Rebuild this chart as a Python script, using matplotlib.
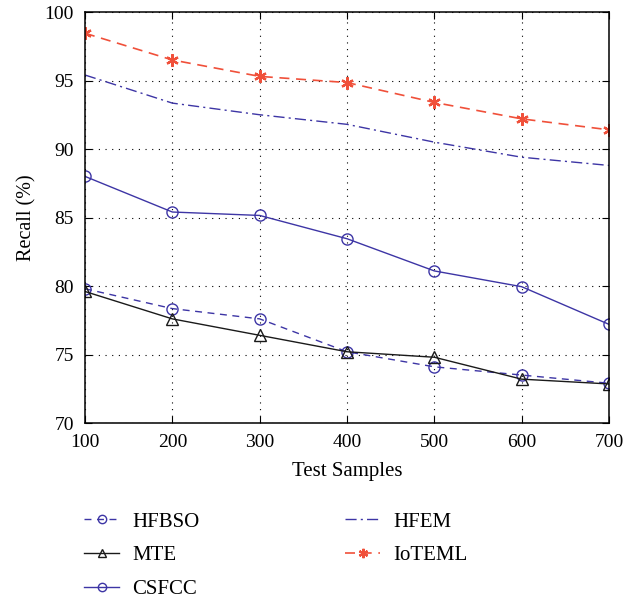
import numpy as np
import matplotlib
matplotlib.use('Agg')
import matplotlib.pyplot as plt

plt.rcParams['font.family'] = ['Liberation Serif', 'DejaVu Serif']

# Data
samples = [100, 200, 300, 400, 500, 600, 700]
hfbso = [79.8, 78.35, 77.6, 75.2, 74.1, 73.5, 72.9]
mte = [79.6, 77.6, 76.4, 75.2, 74.8, 73.2, 72.85]
csfcc = [88.0, 85.4, 85.15, 83.45, 81.1, 79.95, 77.2]
hfem = [95.4, 93.35, 92.5, 91.8, 90.5, 89.4, 88.8]
ioteml = [98.45, 96.5, 95.3, 94.85, 93.4, 92.2, 91.4]

blue = '#3d35a5'
red = '#f0503a'

fig = plt.figure(figsize=(6.38, 6.04), dpi=100)
ax = fig.add_axes([85 / 638, 1 - 423 / 604, (609 - 85) / 638, (423 - 12) / 604])

ax.plot(samples, hfbso, color=blue, linestyle=(0, (5, 4)), linewidth=1.0,
        marker='o', markersize=8, markerfacecolor='none', markeredgecolor=blue, label='HFBSO')
ax.plot(samples, mte, color='#1a1a1a', linestyle='-', linewidth=1.0,
        marker='^', markersize=8, markerfacecolor='none', markeredgecolor='#1a1a1a', label='MTE')
ax.plot(samples, csfcc, color=blue, linestyle='-', linewidth=1.0,
        marker='o', markersize=8, markerfacecolor='none', markeredgecolor=blue, label='CSFCC')
ax.plot(samples, hfem, color=blue, linestyle=(0, (8, 3, 1.5, 3)), linewidth=1.0,
        label='HFEM')
ax.plot(samples, ioteml, color=red, linestyle=(0, (6, 4)), linewidth=1.2,
        marker=(6, 2, 0), markersize=9, markeredgewidth=1.6,
        markerfacecolor=red, markeredgecolor=red, label='IoTEML')

ax.set_xlim(100, 700)
ax.set_ylim(70, 100)
ax.set_xticks(samples)
ax.set_yticks([70, 75, 80, 85, 90, 95, 100])
ax.grid(True, color='black', linestyle=(0, (1, 5)), linewidth=0.8)
ax.tick_params(direction='in', top=True, right=True, labelsize=14, length=5)
ax.tick_params(axis='x', pad=8)
ax.tick_params(axis='y', pad=8)
for s in ax.spines.values():
    s.set_linewidth(1.1)

ax.set_xlabel('Test Samples', fontsize=15, labelpad=8)
ax.set_ylabel('Recall (%)', fontsize=14.5, labelpad=6)

leg = ax.legend(loc='upper left', bbox_to_anchor=(84 / 638, 1 - 512 / 604),
                bbox_transform=fig.transFigure, borderaxespad=0, borderpad=0,
                ncol=2, frameon=False, fontsize=15, handlelength=1.7,
                handletextpad=0.6, columnspacing=7.0, labelspacing=0.68,
                markerscale=0.75)

fig.savefig('out.png', dpi=100)
